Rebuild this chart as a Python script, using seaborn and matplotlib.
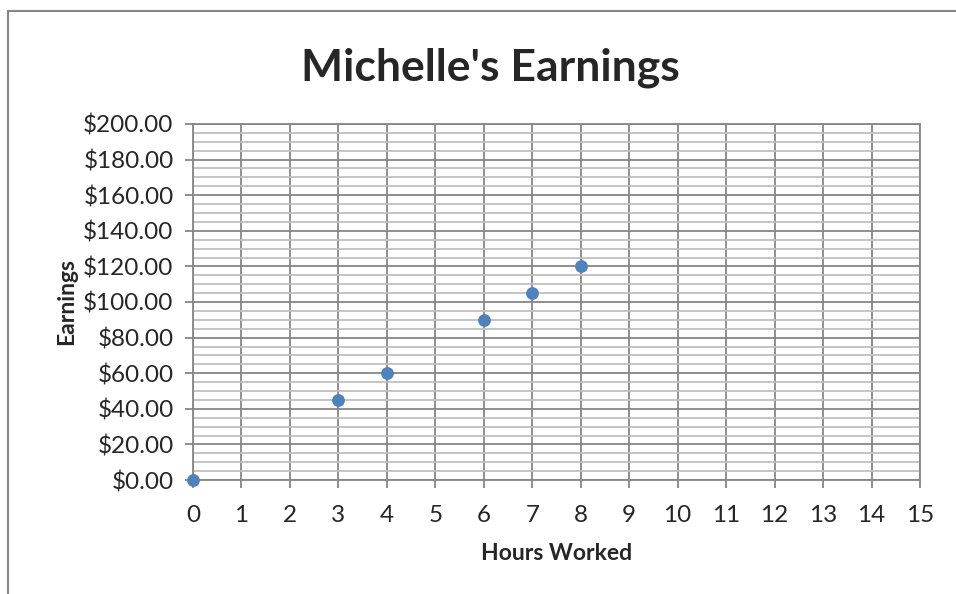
import numpy as np
import pandas as pd
import matplotlib
matplotlib.use('Agg')
import matplotlib.pyplot as plt
import seaborn as sns
from matplotlib.ticker import MultipleLocator, FuncFormatter
from matplotlib.patches import Rectangle

# data
hours = [0, 3, 4, 6, 7, 8]
earnings = [0, 45, 60, 90, 105, 120]

sns.set_style('white')
plt.rcParams['font.family'] = ['Lato', 'DejaVu Sans']

df = pd.DataFrame({'Hours Worked': hours, 'Earnings': earnings})

fig = plt.figure(figsize=(9.56, 5.94), dpi=100)
ax = fig.add_axes([193/956, 1 - 480/594, (920-193)/956, (480-124)/594])

#outer chart frame (only top and left visible)
fig.patches.append(Rectangle((8/956, -0.05), 1.2, 1 - 11/594 + 0.05, transform=fig.transFigure,
                             fill=False, edgecolor='#868686', linewidth=1.5))

sns.scatterplot(data=df, x='Hours Worked', y='Earnings', color='#4F81BD', s=85,
                edgecolor='#4F81BD', linewidth=0, zorder=5, clip_on=False, ax=ax)

ax.set_xlim(0, 15)
ax.set_ylim(0, 200)
ax.xaxis.set_major_locator(MultipleLocator(1))
ax.yaxis.set_major_locator(MultipleLocator(20))
ax.yaxis.set_minor_locator(MultipleLocator(5))
ax.yaxis.set_major_formatter(FuncFormatter(lambda v, p: '${:.2f}'.format(v)))

ax.grid(which='minor', axis='y', color='#BFBFBF', linewidth=1.3)
ax.grid(which='major', axis='both', color='#868686', linewidth=1.3)
ax.set_axisbelow(True)
for s in ax.spines.values():
    s.set_color('#868686')
    s.set_linewidth(1.3)

ax.tick_params(axis='both', which='major', length=6, width=1.3, color='#868686',
               labelsize=17.5, pad=8, direction='out', bottom=True, left=True)
ax.tick_params(axis='x', which='major', pad=12)
ax.tick_params(axis='y', which='minor', length=0)

ax.set_xlabel('Hours Worked', fontsize=16.5, fontweight='bold', labelpad=12)
ax.set_ylabel('Earnings', fontsize=16.5, fontweight='bold', labelpad=4)
fig.text(490/956, 1 - 68/594, "Michelle's Earnings", ha='center', va='center',
         fontsize=32, fontweight='bold')

fig.savefig('out.png', dpi=100)
